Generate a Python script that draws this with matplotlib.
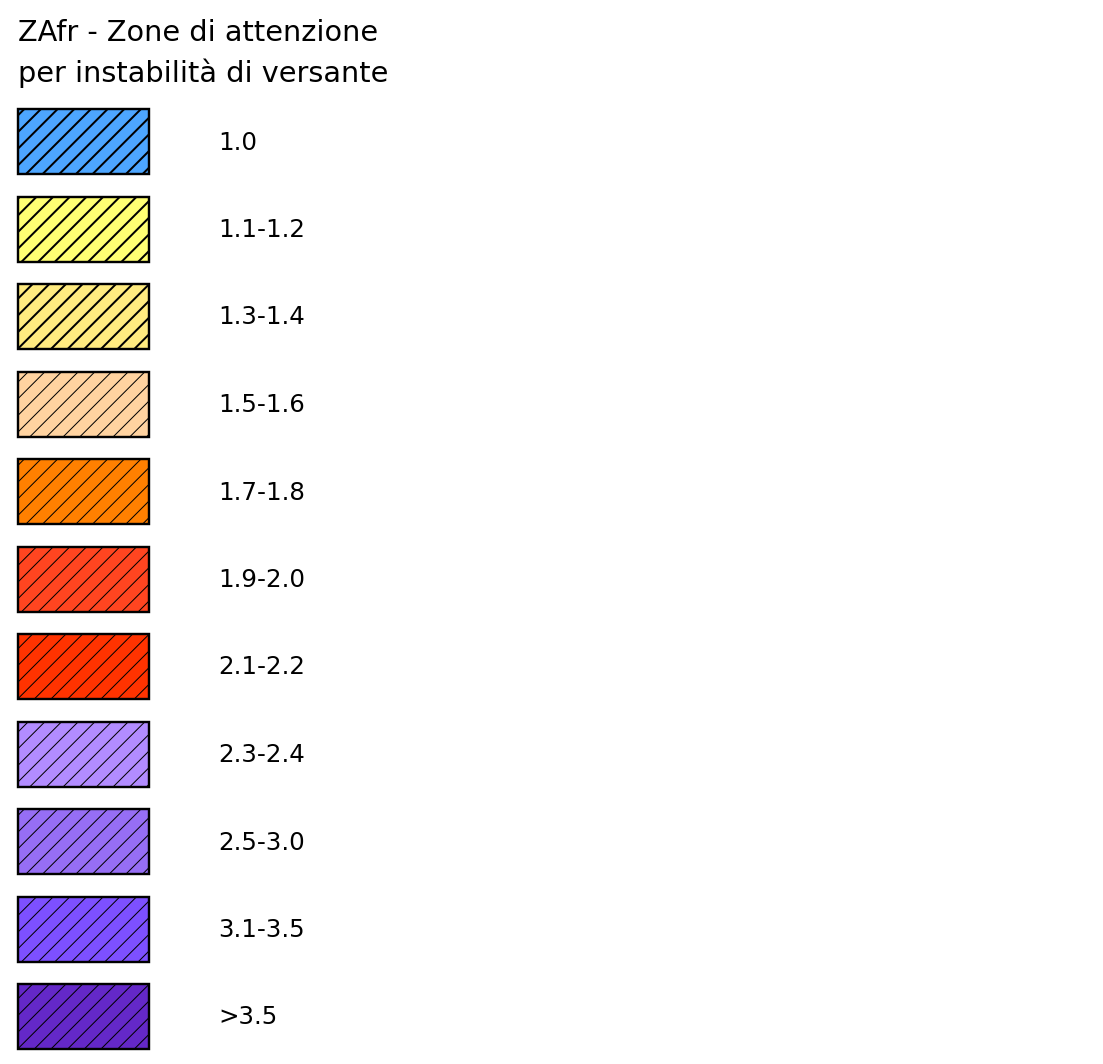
import matplotlib
matplotlib.use("Agg")
import matplotlib.pyplot as plt

# legenda ZAfr
titolo = "ZAfr - Zone di attenzione\nper instabilità di versante"
classi = ["1.0", "1.1-1.2", "1.3-1.4", "1.5-1.6", "1.7-1.8", "1.9-2.0",
          "2.1-2.2", "2.3-2.4", "2.5-3.0", "3.1-3.5", ">3.5"]
colori = ["#4da6ff", "#ffff73", "#ffeb80", "#ffd3a0", "#ff8000", "#ff4520",
          "#ff3300", "#b28cff", "#966ef5", "#7d50ff", "#6428c8"]
tratteggio_spesso = [True, True, True, False, False, False,
                     False, False, False, False, False]

W, H = 1103, 1064
DPI = 100  # passo del tratteggio ~ 14 px
px = 72.0 / DPI  # un pixel in punti

fig = plt.figure(figsize=(W / DPI, H / DPI), dpi=DPI)
ax = fig.add_axes([0, 0, 1, 1])
ax.set_xlim(0, W)
ax.set_ylim(H, 0)
ax.axis('off')

y0, passo = 141.5, 87.5
for i, (cl, col, spesso) in enumerate(zip(classi, colori, tratteggio_spesso)):
    y = y0 + i * passo
    lw_h = (2.0 if spesso else 1.0) * px
    with plt.rc_context({'hatch.linewidth': lw_h}):
        b = ax.barh(y, 131, left=18, height=65, color=col,
                    edgecolor='black', linewidth=2.4 * px, hatch='//')
    for p in b:
        if hasattr(p, 'set_hatch_linewidth'):
            p.set_hatch_linewidth(lw_h)
    ax.text(218, y + 1, cl, fontsize=24.5 * px, va='center', ha='left',
            family='DejaVu Sans')

ax.text(18, 19, titolo, fontsize=28.7 * px, va='top', ha='left',
        linespacing=1.5, family='DejaVu Sans')

fig.savefig("out.png", dpi=DPI)
